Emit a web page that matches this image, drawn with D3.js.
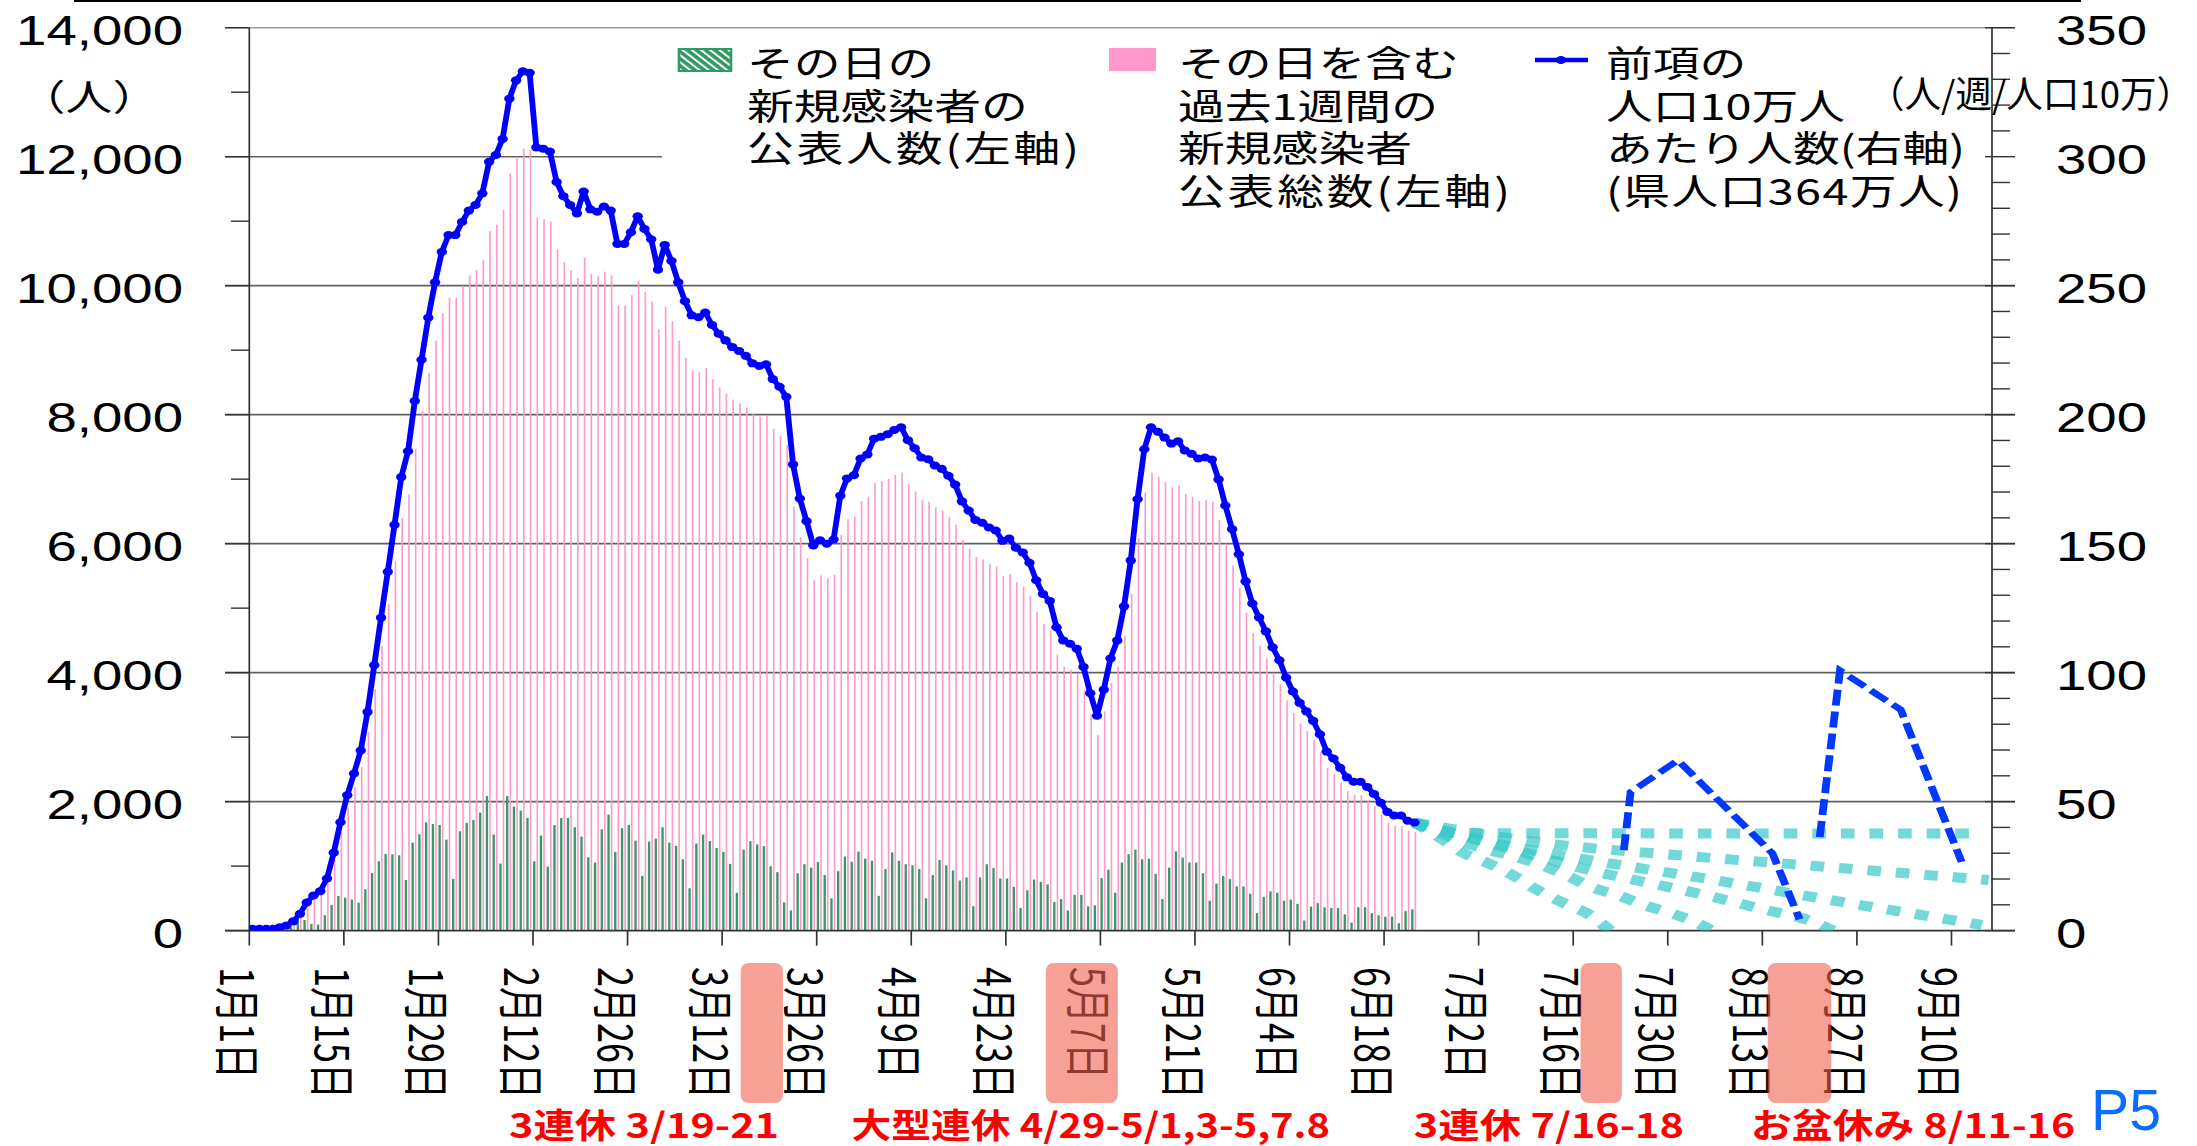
<!DOCTYPE html>
<html>
<head>
<meta charset="utf-8">
<script src="https://cdn.jsdelivr.net/npm/d3@7"></script>
<style>
  html, body { margin: 0; padding: 0; background: #fff; overflow: hidden; }
  svg { display: block; }
</style>
</head>
<body>
<svg id="chart"></svg>
<script>
const FONT_JP = '"Noto Sans CJK JP", "Noto Sans", sans-serif';
const FONT_NUM = '"Liberation Sans", Arial, sans-serif';

// ---- data ----
const startDate = '2022-01-01';
const endDate = '2022-09-16';
const population = 364; // 万人

// daily new cases (green)
const dailyCases = [3,4,2,5,12,20,50,181,165,103,
  93,238,398,537,512,481,434,641,894,1075,
  1189,1183,1168,786,1364,1494,1680,1654,1638,1411,
  801,1540,1669,1716,1829,2088,1488,1039,2088,1922,
  1860,1747,1075,1473,992,1638,1747,1747,1602,1457,
  1137,1054,1571,1798,1220,1587,1638,1395,848,1380,
  1426,1602,1364,1313,1106,656,1349,1488,1390,1280,
  1220,1035,585,1256,1385,1337,1310,997,906,437,
  313,889,1029,976,1062,862,501,922,1148,1067,
  1224,1116,1083,539,954,1213,1083,1029,1013,954,
  501,862,1094,1013,932,776,825,377,825,1029,
  970,808,808,679,350,625,792,755,717,442,
  490,313,555,555,377,393,814,943,588,1056,
  1186,1256,1105,1116,879,490,976,1229,1132,1056,
  1056,889,464,728,846,798,685,685,571,270,
  523,609,588,464,480,415,156,372,426,361,
  350,350,253,124,361,361,270,237,216,216,
  113,302,329];

// weekly cases per 100k (blue line, right axis)
const per100k = [0.7,0.7,0.7,0.7,1.3,2.0,3.6,6.5,10.9,13.6,
  15.3,20.2,30.2,42.0,52.5,60.9,69.8,84.7,102.9,121.3,
  139.1,157.3,175.8,185.8,205.3,221.3,237.6,251.3,263.1,269.6,
  269.6,274.7,279.1,281.3,285.8,298.0,300.7,306.9,322.5,329.6,
  333.1,332.5,303.6,303.1,302.0,290.2,284.7,281.3,278.0,286.5,
  279.6,278.7,280.7,279.1,266.2,266.2,270.7,276.9,272.0,268.0,
  256.2,265.8,259.6,251.3,244.0,238.5,237.8,239.6,234.8,231.4,
  228.8,226.2,224.7,222.8,219.9,218.9,219.5,213.8,210.8,206.9,
  180.7,167.5,158.7,149.3,151.3,150.0,151.6,168.6,175.3,176.5,
  183.0,184.6,190.7,191.4,192.4,194.1,195.1,190.1,187.0,183.4,
  182.7,180.3,179.0,176.3,172.9,166.4,162.8,159.2,158.1,156.3,
  155.1,151.1,152.0,148.4,146.6,142.6,135.8,130.5,127.8,117.6,
  112.5,111.2,109.3,102.2,92.0,83.3,93.4,105.5,112.5,125.7,
  143.5,167.2,186.6,195.1,193.4,191.1,188.8,189.7,186.1,184.8,
  183.0,183.4,182.6,174.9,164.8,155.6,145.9,135.4,126.8,121.4,
  116.0,109.8,104.8,98.1,92.7,88.3,85.0,81.3,76.1,69.4,
  66.7,63.1,59.4,57.7,57.7,55.7,53.0,49.6,46.0,44.6,
  44.6,42.6,41.9];

// blue dashed reference curves (right axis)
const refWaves = [
  [['2022-07-23', 31.2], ['2022-07-24', 53.7], ['2022-07-31', 66.0], ['2022-08-14', 29.9], ['2022-08-18', 4.4]],
  [['2022-08-21', 36.3], ['2022-08-24', 100.8], ['2022-09-02', 85.6], ['2022-09-11', 26.6]]
];

// cyan dotted outlook curves (right axis)
const outlooks = [
  [['2022-06-22', 41.9], ['2022-06-28', 37.8], ['2022-09-13', 37.6]],
  [['2022-06-22', 41.9], ['2022-07-11', 34.0], ['2022-08-01', 29.0], ['2022-08-22', 24.7], ['2022-09-15', 19.6]],
  [['2022-06-22', 41.9], ['2022-07-03', 34.4], ['2022-07-15', 28.6], ['2022-08-04', 20.2], ['2022-08-25', 10.8], ['2022-09-14', 2.2]],
  [['2022-06-22', 41.9], ['2022-07-11', 28.3], ['2022-07-18', 23.4], ['2022-07-27', 18.3], ['2022-08-04', 13.8], ['2022-08-12', 8.6], ['2022-08-20', 3.4], ['2022-08-23', 0]],
  [['2022-06-22', 41.9], ['2022-07-03', 31.2], ['2022-07-07', 28.6], ['2022-07-15', 20.8], ['2022-07-18', 17.0], ['2022-07-22', 13.8], ['2022-07-26', 9.9], ['2022-07-30', 6.7], ['2022-08-03', 2.8], ['2022-08-05', 0]],
  [['2022-06-22', 41.9], ['2022-06-26', 35.7], ['2022-06-29', 30.5], ['2022-07-03', 26.0], ['2022-07-07', 20.8], ['2022-07-10', 16.0], ['2022-07-14', 10.8], ['2022-07-18', 6.0], ['2022-07-21', 0]]
];

const tickDates = ['2022-01-01','2022-01-15','2022-01-29','2022-02-12','2022-02-26','2022-03-12','2022-03-26',
  '2022-04-09','2022-04-23','2022-05-07','2022-05-21','2022-06-04','2022-06-18','2022-07-02','2022-07-16',
  '2022-07-30','2022-08-13','2022-08-27','2022-09-10'];
const leftTicks = [0, 2000, 4000, 6000, 8000, 10000, 12000, 14000];
const rightTicks = [0, 50, 100, 150, 200, 250, 300, 350];

const holidayBoxes = [
  ['2022-03-14T18:00', '2022-03-21T00:00'],
  ['2022-04-28T22:00', '2022-05-09T14:00'],
  ['2022-07-17T02:00', '2022-07-23T05:00'],
  ['2022-08-13T19:00', '2022-08-23T05:00']
];
const holidayLabels = ['3連休 3/19-21', '大型連休 4/29-5/1,3-5,7.8', '3連休 7/16-18', 'お盆休み 8/11-16'];

const legendDaily = ['その日の', '新規感染者の', '公表人数(左軸)'];
const legendWeekly = ['その日を含む', '過去1週間の', '新規感染者', '公表総数(左軸)'];
const legendRate = ['前項の', '人口10万人', 'あたり人数(右軸)', '(県人口364万人)'];

// ---- layout: the picture is stretched sideways, so draw narrow and stretch ----
const W = 2197, H = 1146, K = 1.3;
const sx = v => v / K; // screen px -> drawing units
const svg = d3.select('#chart').attr('width', W).attr('height', H)
  .attr('viewBox', `0 0 ${W / K} ${H}`).attr('preserveAspectRatio', 'none');

const parse = d3.utcParse('%Y-%m-%d');
const parseT = d3.utcParse('%Y-%m-%dT%H:%M');
const X0 = sx(249.3), X1 = sx(1992), Y0 = 930.6, Y1 = 27.7;
const t0 = parse(startDate), t1 = parse(endDate);
const x = d3.scaleUtc().domain([t0, t1]).range([X0, X1]);
const bw = (X1 - X0) / d3.utcDay.count(t0, t1);
const yL = d3.scaleLinear().domain([0, 14000]).range([Y0, Y1]);
const yR = d3.scaleLinear().domain([0, 350]).range([Y0, Y1]);

const days = dailyCases.map((v, i) => ({
  date: d3.utcDay.offset(t0, i), daily: v, rate: per100k[i], weekly: per100k[i] * population / 10
}));

const defs = svg.append('defs');
const hatch = defs.append('pattern').attr('id', 'hatch').attr('patternUnits', 'userSpaceOnUse')
  .attr('width', 5).attr('height', 5).attr('patternTransform', 'rotate(-45)');
hatch.append('rect').attr('width', 5).attr('height', 5).attr('fill', '#2f9a63');
hatch.append('rect').attr('width', 1.8).attr('height', 5).attr('fill', '#fff');
defs.append('clipPath').attr('id', 'plot').append('rect')
  .attr('x', X0).attr('y', Y1 - 10).attr('width', X1 - X0).attr('height', Y0 - Y1 + 10);

// top border of the slide
svg.append('line').attr('x1', sx(74)).attr('x2', sx(2081)).attr('y1', 1).attr('y2', 1)
  .attr('stroke', '#000').attr('stroke-width', 2);

// gridlines
svg.append('g').selectAll('line').data(leftTicks.filter(d => d > 0)).join('line')
  .attr('x1', sx(225)).attr('x2', d => d === 12000 ? sx(662) : sx(2015))
  .attr('y1', d => yL(d)).attr('y2', d => yL(d))
  .attr('stroke', d => d === 14000 ? '#9a9a9a' : '#606060').attr('stroke-width', 1.6);

// bars
const bars = svg.append('g');
bars.selectAll('rect.wk').data(days).join('rect').attr('class', 'wk')
  .attr('x', d => x(d.date) + 2.68).attr('width', 1.25)
  .attr('y', d => yL(d.weekly)).attr('height', d => Y0 - yL(d.weekly)).attr('fill', '#ff99cc');
bars.selectAll('rect.dy').data(days).join('rect').attr('class', 'dy')
  .attr('x', d => x(d.date) + 0.05).attr('width', 1.8)
  .attr('y', d => yL(d.daily)).attr('height', d => Y0 - yL(d.daily)).attr('fill', '#359a66');

// axes lines and ticks
const ax = svg.append('g').attr('stroke', '#333');
ax.append('line').attr('x1', X0).attr('x2', X0).attr('y1', Y1).attr('y2', Y0).attr('stroke-width', 1.3);
ax.append('line').attr('x1', X1).attr('x2', X1).attr('y1', Y1).attr('y2', Y0).attr('stroke-width', 1.3);
ax.append('line').attr('x1', sx(225)).attr('x2', sx(2015)).attr('y1', Y0).attr('y2', Y0).attr('stroke-width', 1.8);
ax.selectAll('line.lt').data(d3.range(0, 14001, 1000)).join('line').attr('class', 'lt')
  .attr('x1', d => d % 2000 ? sx(231) : sx(225)).attr('x2', X0)
  .attr('y1', d => yL(d)).attr('y2', d => yL(d)).attr('stroke-width', 1.4);
ax.selectAll('line.rt').data(d3.range(0, 351, 10)).join('line').attr('class', 'rt')
  .attr('x1', d => d % 50 ? X1 : sx(1985)).attr('x2', d => d % 50 ? sx(2010) : sx(2015))
  .attr('y1', d => yR(d)).attr('y2', d => yR(d)).attr('stroke-width', 1.4);
ax.selectAll('line.xt').data(tickDates).join('line').attr('class', 'xt')
  .attr('x1', d => x(parse(d))).attr('x2', d => x(parse(d)))
  .attr('y1', Y0).attr('y2', Y0 + 15).attr('stroke-width', 1.3);

// axis labels
svg.append('g').selectAll('text').data(leftTicks).join('text')
  .attr('x', sx(183)).attr('y', d => yL(d) + 3).attr('text-anchor', 'end').attr('dominant-baseline', 'central')
  .attr('font-family', FONT_NUM).attr('font-size', 42).attr('fill', '#000').text(d => d3.format(',')(d));
svg.append('g').selectAll('text').data(rightTicks).join('text')
  .attr('x', sx(2056)).attr('y', d => yR(d) + 3).attr('text-anchor', 'start').attr('dominant-baseline', 'central')
  .attr('font-family', FONT_NUM).attr('font-size', 42).attr('fill', '#000').text(d => d);
svg.append('text').attr('x', sx(89)).attr('y', 95).attr('text-anchor', 'middle').attr('dominant-baseline', 'central')
  .attr('font-family', FONT_JP).attr('font-size', 36).text('（人）');
svg.append('text').attr('x', sx(1868)).attr('y', 92).attr('dominant-baseline', 'central')
  .attr('textLength', sx(325)).attr('lengthAdjust', 'spacingAndGlyphs')
  .attr('font-family', FONT_JP).attr('font-size', 37).text('（人/週/人口10万）');

const fmtTick = d3.utcFormat('%-m月%-d日');
svg.append('g').selectAll('text').data(tickDates).join('text')
  .attr('transform', d => `translate(${x(parse(d)) - sx(9)},967) rotate(90)`)
  .attr('dominant-baseline', 'central').attr('font-family', FONT_JP).attr('font-size', 36)
  .attr('fill', '#000').text(d => fmtTick(parse(d)));

// holiday boxes
svg.append('g').selectAll('rect').data(holidayBoxes).join('rect')
  .attr('x', d => x(parseT(d[0]))).attr('width', d => x(parseT(d[1])) - x(parseT(d[0])))
  .attr('y', 963).attr('height', 140).attr('rx', 6).attr('ry', 8)
  .attr('fill', '#f2604e').attr('fill-opacity', 0.6);

const holidayX = [509, 851.5, 1413.8, 1751];
const holidayW = [270, 478.5, 270.2, 324];
svg.append('g').selectAll('text').data(holidayLabels).join('text')
  .attr('x', (d, i) => sx(holidayX[i])).attr('y', 1138)
  .attr('textLength', (d, i) => sx(holidayW[i])).attr('lengthAdjust', 'spacingAndGlyphs')
  .attr('font-family', FONT_JP).attr('font-weight', 700).attr('font-size', 34).attr('fill', '#ff0000').text(d => d);
svg.append('text').attr('x', sx(2091)).attr('y', 1130).attr('textLength', sx(70)).attr('lengthAdjust', 'spacingAndGlyphs')
  .attr('font-family', FONT_NUM).attr('font-size', 58).attr('fill', '#0a6cff').text('P5');

// outlook curves
const plot = svg.append('g').attr('clip-path', 'url(#plot)');
const mid = s => x(parse(s)) + bw / 2;
const curve = d3.line().x(d => mid(d[0])).y(d => yR(d[1])).curve(d3.curveMonotoneX);
plot.append('g').selectAll('path').data(outlooks).join('path')
  .attr('d', curve).attr('fill', 'none').attr('stroke', '#3cc9c9').attr('stroke-opacity', 0.72)
  .attr('stroke-width', 10).attr('stroke-dasharray', '10.5 11.5');

// main line
const line = d3.line().x(d => x(d.date) + bw / 2).y(d => yR(d.rate));
plot.append('path').datum(days).attr('d', line).attr('fill', 'none')
  .attr('stroke', '#0000ff').attr('stroke-width', 4.5).attr('stroke-linejoin', 'round');
plot.append('g').selectAll('circle').data(days).join('circle')
  .attr('cx', d => x(d.date) + bw / 2).attr('cy', d => yR(d.rate)).attr('r', 4).attr('fill', '#0000ff');

// reference waves
const wave = d3.line().x(d => mid(d[0])).y(d => yR(d[1]));
plot.append('g').selectAll('path').data(refWaves).join('path')
  .attr('d', wave).attr('fill', 'none').attr('stroke', '#0038ff').attr('stroke-width', 6)
  .attr('stroke-dasharray', '16 6');

// legend
const lg = svg.append('g').attr('font-family', FONT_JP).attr('font-size', 36).attr('fill', '#000');
const rowY = [61, 104, 146, 189];
lg.append('rect').attr('x', sx(679)).attr('y', 49).attr('width', sx(52)).attr('height', 22)
  .attr('fill', 'url(#hatch)').attr('stroke', '#2f9a63').attr('stroke-width', 2);
lg.append('rect').attr('x', sx(1109)).attr('y', 48).attr('width', sx(47)).attr('height', 23).attr('fill', '#ff99cc');
lg.append('line').attr('x1', sx(1535)).attr('x2', sx(1588)).attr('y1', 60).attr('y2', 60)
  .attr('stroke', '#0000ff').attr('stroke-width', 4.5);
lg.append('circle').attr('cx', sx(1561)).attr('cy', 60).attr('r', 4).attr('fill', '#0000ff');
// lines with half-width brackets are stretched to the width they take in the picture
const bracketW = { '公表人数(左軸)': 332, '公表総数(左軸)': 332, 'あたり人数(右軸)': 359, '(県人口364万人)': 356 };
[[legendDaily, 747], [legendWeekly, 1178], [legendRate, 1606]].forEach(([rows, lx]) => {
  lg.append('g').selectAll('text').data(rows).join('text')
    .attr('x', sx(lx)).attr('y', (d, i) => rowY[i]).attr('dominant-baseline', 'central')
    .attr('textLength', d => bracketW[d] ? sx(bracketW[d]) : null)
    .attr('lengthAdjust', 'spacing').text(d => d);
});
</script>
</body>
</html>
